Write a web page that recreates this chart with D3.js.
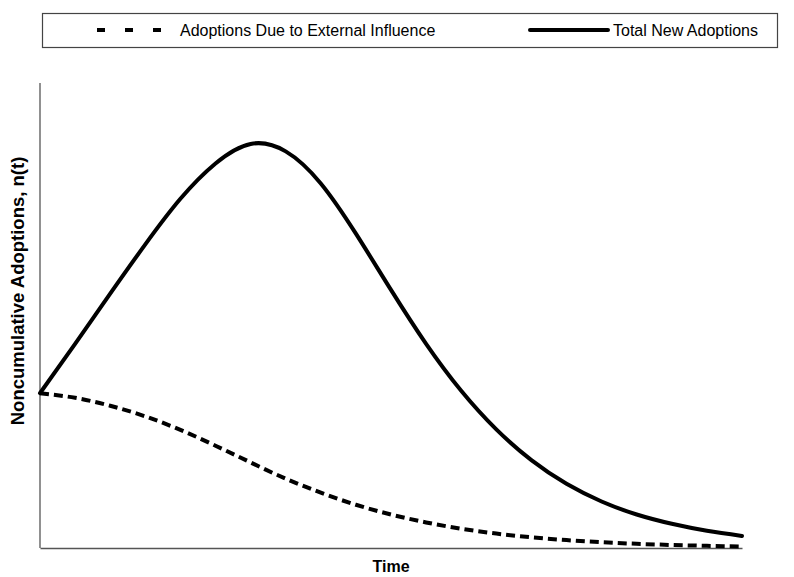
<!DOCTYPE html>
<html>
<head>
<meta charset="utf-8">
<script src="https://cdn.jsdelivr.net/npm/d3@7"></script>
<style>
  body { margin: 0; background: #fff; }
  svg { display: block; font-family: "Liberation Sans", Arial, Helvetica, sans-serif; }
</style>
</head>
<body>
<div id="chart"></div>
<script>
// Bass diffusion: new adoptions per period and the part due to external influence
const periods = d3.range(0, 21);
const totalAdoptions = [33.3, 43.9, 54.7, 65.3, 75.1, 82.7, 86.9, 85.3, 78.4, 67.6, 55.5,
                        43.9, 33.8, 25.5, 18.9, 13.8, 10.0, 7.2, 5.2, 3.7, 2.6];
const externalAdoptions = [33.3, 32.3, 30.6, 28.3, 25.4, 22.0, 18.4, 14.9, 11.9, 9.3, 7.2,
                           5.5, 4.15, 3.1, 2.3, 1.7, 1.25, 0.9, 0.65, 0.47, 0.33];
const seriesNames = ["Adoptions Due to External Influence", "Total New Adoptions"];
const xTitle = "Time";
const yTitle = "Noncumulative Adoptions, n(t)";

const width = 794;
const height = 577;
const plot = { left: 40, right: 742, top: 83, bottom: 548 };

const svg = d3.select("#chart")
    .append("svg")
    .attr("width", width)
    .attr("height", height);

const x = d3.scaleLinear()
    .domain([0, 20])
    .range([plot.left, plot.right]);

const y = d3.scaleLinear()
    .domain([0, 100])
    .range([plot.bottom, plot.top]);

// Axes: plain lines, no ticks
svg.append("g")
    .attr("transform", `translate(0,${plot.bottom})`)
    .call(d3.axisBottom(x).tickValues([]).tickSizeOuter(0))
    .select(".domain")
    .attr("stroke", "#555")
    .attr("stroke-width", 1.3);

svg.append("line")
    .attr("x1", plot.left).attr("x2", plot.left)
    .attr("y1", plot.top).attr("y2", plot.bottom)
    .attr("stroke", "#555")
    .attr("stroke-width", 1.3);

// natural cubic spline keeps the curves smooth through the sampled periods
const line = d3.line()
    .x((d, i) => x(periods[i]))
    .y(d => y(d))
    .curve(d3.curveNatural);

svg.append("path")
    .datum(externalAdoptions)
    .attr("d", line)
    .attr("fill", "none")
    .attr("stroke", "#000")
    .attr("stroke-width", 4)
    .attr("stroke-dasharray", "9,5");

svg.append("path")
    .datum(totalAdoptions)
    .attr("d", line)
    .attr("fill", "none")
    .attr("stroke", "#000")
    .attr("stroke-width", 4)
    .attr("stroke-linecap", "round");

// Axis titles
svg.append("text")
    .attr("x", (plot.left + plot.right) / 2)
    .attr("y", 572)
    .attr("text-anchor", "middle")
    .attr("font-size", 16)
    .attr("font-weight", "bold")
    .text(xTitle);

svg.append("text")
    .attr("transform", "translate(24,291) rotate(-90)")
    .attr("text-anchor", "middle")
    .attr("font-size", 18.5)
    .attr("font-weight", "bold")
    .text(yTitle);

// Legend
const legend = svg.append("g");
legend.append("rect")
    .attr("x", 42.5).attr("y", 13.5)
    .attr("width", 735).attr("height", 34)
    .attr("fill", "#fff")
    .attr("stroke", "#444")
    .attr("stroke-width", 1.2);

legend.append("line")
    .attr("x1", 97).attr("x2", 166)
    .attr("y1", 30).attr("y2", 30)
    .attr("stroke", "#000")
    .attr("stroke-width", 4)
    .attr("stroke-dasharray", "8,20");

legend.append("line")
    .attr("x1", 530).attr("x2", 608)
    .attr("y1", 30).attr("y2", 30)
    .attr("stroke", "#000")
    .attr("stroke-width", 4)
    .attr("stroke-linecap", "round");

legend.selectAll("text")
    .data(seriesNames)
    .join("text")
    .attr("x", (d, i) => i === 0 ? 180 : 613)
    .attr("y", 36)
    .attr("font-size", 16)
    .text(d => d);
</script>
</body>
</html>
